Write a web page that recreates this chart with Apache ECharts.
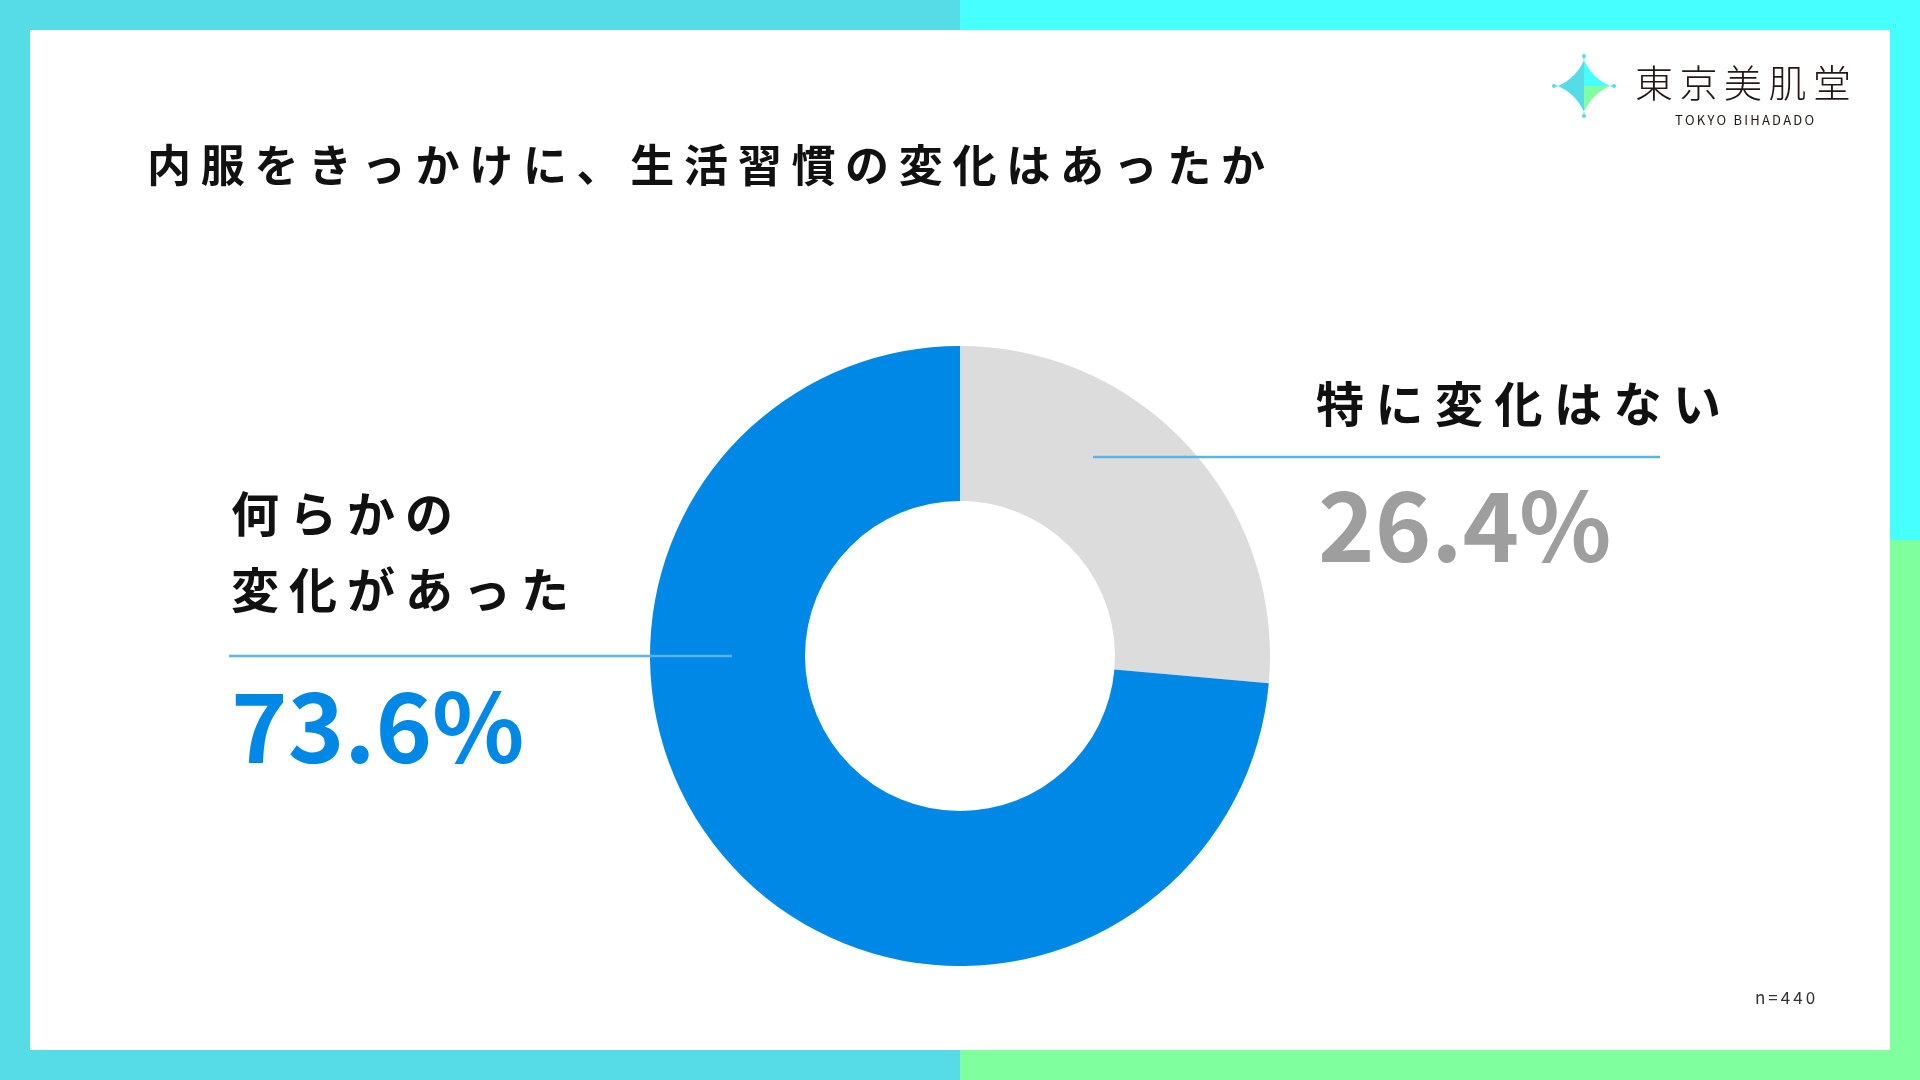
<!DOCTYPE html>
<html>
<head>
<meta charset="utf-8">
<script src="https://cdn.jsdelivr.net/npm/echarts@6/dist/echarts.min.js"></script>
<style>
html, body { margin: 0; padding: 0; background: #fff; }
#chart { width: 1920px; height: 1080px; }
</style>
</head>
<body>
<div id="chart"></div>
<script>
// データ
var titleText = '内服をきっかけに、生活習慣の変化はあったか';
var categories = ['特に変化はない', '何らかの\n変化があった'];
var values = [26.4, 73.6];
var sampleNote = 'n=440';
var brandName = '東京美肌堂';
var brandSub = 'TOKYO BIHADADO';

// 色と配置
var sliceColors = ['#DCDCDC', '#0088E6'];
var valueColors = ['#9E9E9E', '#0088E6'];
var lineColor = '#5AB4E8';
var cyanA = '#55DCE6';
var cyanB = '#46FFFF';
var green = '#7FFF9E';
var CJK = '"Noto Sans CJK JP", "Noto Sans", sans-serif';

var labelLayout = [
    { x: 1316, rows: [404], gap: 11.5, lineX: [1093, 1660], lineY: 457, valueX: 1318, valueY: 526 },
    { x: 231, rows: [514, 590], gap: 10, lineX: [229, 732], lineY: 656, valueX: 231, valueY: 727 }
];

var measureCtx = document.createElement('canvas').getContext('2d');

// 1文字ずつ並べて字間をあける
function spaced(str, x, y, size, weight, color, gap) {
    var out = [];
    measureCtx.font = weight + ' ' + size + 'px ' + CJK;
    var cx = x;
    for (var ch of str) {
        out.push({
            type: 'text', x: cx, y: y, z: 20,
            style: {
                text: ch, fill: color,
                fontSize: size, fontWeight: weight, fontFamily: CJK,
                align: 'left', verticalAlign: 'middle',
                textAlign: 'left', textVerticalAlign: 'middle'
            }
        });
        cx += measureCtx.measureText(ch).width + gap;
    }
    return out;
}

function band(x, y, w, h, color) {
    return { type: 'rect', z: 1, shape: { x: x, y: y, width: w, height: h }, style: { fill: color } };
}

// ロゴの星
var starX = 1584, starY = 86, R = 26, c = 8;
function quadrant(sx, sy, color) {
    var pts = [[starX, starY]];
    for (var i = 0; i <= 24; i++) {
        var t = i / 24;
        var px = 2 * (1 - t) * t * sx * c + t * t * sx * R;
        var py = (1 - t) * (1 - t) * sy * R + 2 * (1 - t) * t * sy * c;
        pts.push([starX + px, starY + py]);
    }
    return { type: 'polygon', z: 20, shape: { points: pts }, style: { fill: color } };
}

var elements = [
    band(0, 0, 960, 30, cyanA),
    band(960, 0, 960, 30, cyanB),
    band(0, 0, 30, 1080, cyanA),
    band(1890, 0, 30, 540, cyanB),
    band(1890, 540, 30, 540, green),
    band(0, 1050, 960, 30, cyanA),
    band(960, 1050, 960, 30, green),
    quadrant(-1, -1, cyanA),
    quadrant(-1, 1, cyanA),
    quadrant(1, -1, cyanB),
    quadrant(1, 1, green)
];

[[0, -1], [0, 1], [-1, 0], [1, 0]].forEach(function (d) {
    elements.push({
        type: 'line', z: 20,
        shape: { x1: starX + d[0] * R, y1: starY + d[1] * R, x2: starX + d[0] * 30, y2: starY + d[1] * 30 },
        style: { stroke: cyanA, lineWidth: 1 }
    });
    elements.push({
        type: 'circle', z: 20,
        shape: { cx: starX + d[0] * 30, cy: starY + d[1] * 30, r: 2 },
        style: { fill: cyanA }
    });
});

elements = elements.concat(spaced(brandName, 1635, 83, 38, 300, '#231815', 6.5));
elements = elements.concat(spaced(brandSub, 1675, 120, 13, 400, '#231815', 2.2));
elements = elements.concat(spaced(titleText, 147, 165, 44, 'bold', '#111', 9.7));
elements = elements.concat(spaced(sampleNote, 1755, 998, 17, 400, '#333', 3));

categories.forEach(function (name, i) {
    var lay = labelLayout[i];
    name.split('\n').forEach(function (row, r) {
        elements = elements.concat(spaced(row, lay.x, lay.rows[r], 48, 'bold', '#111', lay.gap));
    });
    elements.push({
        type: 'line', z: 30,
        shape: { x1: lay.lineX[0], y1: lay.lineY, x2: lay.lineX[1], y2: lay.lineY },
        style: { stroke: lineColor, lineWidth: 2.5 }
    });
    elements.push({
        type: 'text', x: lay.valueX, y: lay.valueY, z: 20,
        style: {
            text: values[i].toFixed(1) + '%', fill: valueColors[i],
            fontSize: 96, fontWeight: 'bold', fontFamily: CJK,
            align: 'left', verticalAlign: 'middle',
            textAlign: 'left', textVerticalAlign: 'middle'
        }
    });
});

var myChart = echarts.init(document.getElementById('chart'));
myChart.setOption({
    backgroundColor: '#fff',
    animation: false,
    graphic: { elements: elements },
    series: [{
        type: 'pie',
        silent: true,
        center: [960, 656],
        radius: [155, 310],
        startAngle: 90,
        clockwise: true,
        label: { show: false },
        labelLine: { show: false },
        data: categories.map(function (name, i) {
            return { name: name, value: values[i], itemStyle: { color: sliceColors[i] } };
        })
    }]
});
</script>
</body>
</html>
